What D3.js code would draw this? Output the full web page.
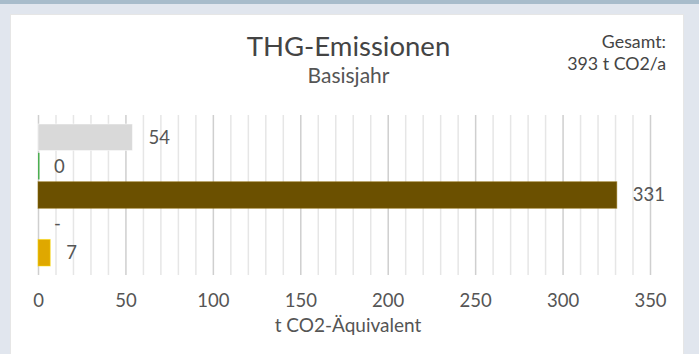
<!DOCTYPE html>
<html lang="de">
<head>
<meta charset="utf-8">
<script src="https://cdn.jsdelivr.net/npm/d3@7"></script>
<style>
  html, body { margin: 0; padding: 0; background: #e1e6ee; }
  body { width: 699px; height: 354px; overflow: hidden; position: relative; font-family: Lato, "Open Sans", sans-serif; }
  .topbar { position: absolute; left: 0; top: 0; width: 699px; height: 4px; background: #a8bccb; }
  .card { position: absolute; left: 10px; top: 14px; width: 674px; height: 360px; background: #fff; border: 1px solid #e6e6e6; box-sizing: border-box; }
  svg { position: absolute; left: 0; top: 0; }
</style>
</head>
<body>
<div class="topbar"></div>
<div class="card"></div>
<svg id="chart" width="699" height="354"></svg>
<script>
// Emission sources for the base year (t CO2-equivalent per year)
const categories = ["Strom", "Erneuerbare", "Wärme", "Kälte", "Mobilität"];
const values = [54, 0, 331, null, 7];
const valueLabels = ["54", "0", "331", "-", "7"];
const colors = ["#d9d9d9", "#4caf50", "#6b5000", "#cccccc", "#dfa800"];
const xTicks = [0, 50, 100, 150, 200, 250, 300, 350];
const gridValues = d3.range(0, 351, 10);
const title = "THG-Emissionen";
const subtitle = "Basisjahr";
const totalLines = ["Gesamt:", "393 t CO2/a"];
const axisTitle = "t CO2-Äquivalent";

const svg = d3.select("#chart");

const x = d3.scaleLinear().domain([0, 350]).range([38, 650]);
const y = d3.scaleBand().domain(categories).range([124, 266]).paddingInner(0.08).paddingOuter(0.0);

const gridTop = 115, gridBottom = 275;

// vertical grid: minor every 10, major every 50
svg.append("g")
  .selectAll("line")
  .data(gridValues)
  .join("line")
  .attr("x1", d => x(d) + 0.5)
  .attr("x2", d => x(d) + 0.5)
  .attr("y1", gridTop)
  .attr("y2", gridBottom)
  .attr("stroke", d => d % 50 === 0 ? "#cfcfcf" : "#e6e6e6")
  .attr("stroke-width", 1.5);

// bars
svg.append("g")
  .selectAll("rect")
  .data(categories.map((c, i) => ({ c, v: values[i], color: colors[i] })).filter(d => d.v !== null))
  .join("rect")
  .attr("x", x(0))
  .attr("y", d => y(d.c))
  .attr("width", d => Math.max(x(d.v) - x(0), 1.5))
  .attr("height", y.bandwidth())
  .attr("fill", d => d.color)
  .attr("stroke", d => d.v > 0 ? d3.color(d.color).brighter(0.8) : "none")
  .attr("stroke-opacity", 0.5)
  .attr("stroke-width", 1);

// value labels
svg.append("g")
  .selectAll("text")
  .data(categories.map((c, i) => ({ c, v: values[i] || 0, label: valueLabels[i] })))
  .join("text")
  .attr("x", d => x(d.v) + 16)
  .attr("y", d => y(d.c) + y.bandwidth() / 2)
  .attr("dy", "0.35em")
  .attr("font-size", 18.5)
  .attr("fill", "#555")
  .text(d => d.label);

// x axis labels
const xAxis = d3.axisBottom(x).tickValues(xTicks).tickSize(0).tickPadding(0);
const gx = svg.append("g").attr("transform", `translate(0, 307)`).call(xAxis);
gx.select(".domain").remove();
gx.selectAll("text")
  .attr("font-family", "Lato, sans-serif")
  .attr("font-size", 18.5)
  .attr("fill", "#555")
  .attr("dy", "0");

svg.append("text")
  .attr("x", 348)
  .attr("y", 332)
  .attr("text-anchor", "middle")
  .attr("font-size", 19)
  .attr("fill", "#555")
  .text(axisTitle);

// titles
svg.append("text")
  .attr("x", 348.5)
  .attr("y", 56)
  .attr("text-anchor", "middle")
  .attr("font-size", 27.5)
  .attr("fill", "#444")
  .text(title);

svg.append("text")
  .attr("x", 348.5)
  .attr("y", 83)
  .attr("text-anchor", "middle")
  .attr("font-size", 21)
  .attr("fill", "#555")
  .text(subtitle);

svg.append("g")
  .selectAll("text")
  .data(totalLines)
  .join("text")
  .attr("x", 666)
  .attr("y", (d, i) => 48 + i * 22)
  .attr("text-anchor", "end")
  .attr("font-size", 17.8)
  .attr("fill", "#444")
  .text(d => d);
</script>
</body>
</html>
